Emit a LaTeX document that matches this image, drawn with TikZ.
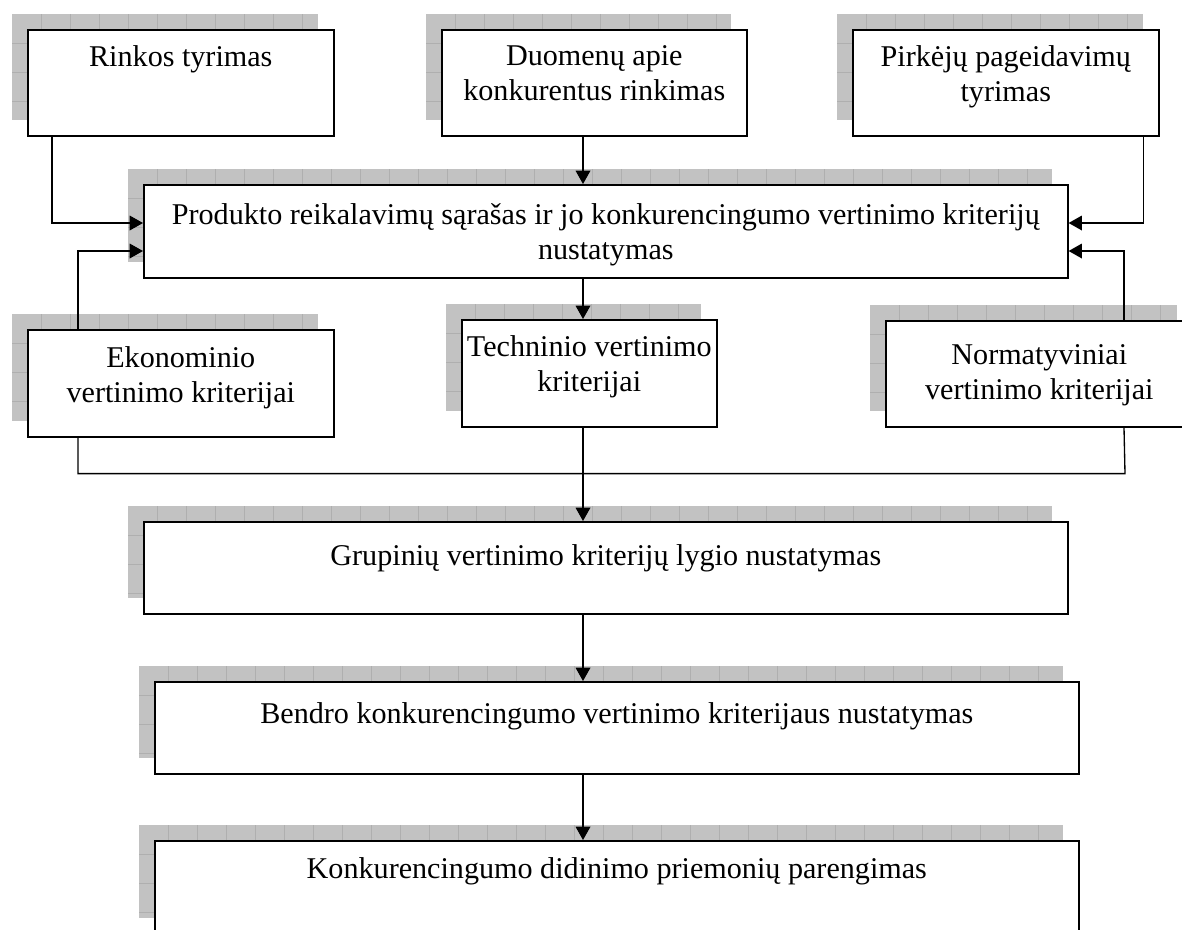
\documentclass[tikz,border=0pt]{standalone}
\usepackage{fontspec}
\setmainfont{Liberation Serif}
\usepackage{tikz}
\usetikzlibrary{arrows.meta, calc}

\definecolor{seselis}{HTML}{C2C2C2}
\definecolor{tinklas}{HTML}{AFAFAF}
\newlength{\pikselis}
\setlength{\pikselis}{0.75pt}

% box with gridded shadow: name, x, y, width, height, top pad, text
\newcommand{\dezute}[7]{%
	\fill[seselis] (#2-15,#3-15) rectangle ++(#4,#5);
	\foreach \gx in {29,58,...,#4} \draw[tinklelis] (#2-15+\gx,#3-15) -- ++(0,#5);
	\foreach \gy in {29,58,...,#5} \draw[tinklelis] (#2-15,#3-15+\gy) -- ++(#4,0);
	\node[dezute, anchor=north west] (#1) at (#2,#3)
		{\parbox[c][#5\pikselis][t]{#4\pikselis}{\centering\vspace*{#6\pikselis}#7}};
}

\begin{document}
\begin{tikzpicture}[x=0.75pt, y=-0.75pt,
		dezute/.style={draw, line width=1.2pt, fill=white, inner sep=0pt,
			font=\fontsize{22.6}{26.3}\selectfont},
		jungtis/.style={line width=1pt, -{Triangle[length=10pt, width=11pt]}},
		linija/.style={line width=1pt},
		tinklelis/.style={draw=tinklas, line width=0.5pt}]
			\useasboundingbox (0,0) rectangle (1182,929);
			% Top row
			\dezute{rinkos}{27}{29}{306}{106}{16}{Rinkos tyrimas}
			\dezute{duomenys}{441}{29}{305}{106}{16}{Duomenų apie\\konkurentus rinkimas}
			\dezute{pirkejai}{852}{29}{306}{106}{16}{Pirkėjų pageidavimų\\tyrimas}
			% Requirements list
			\dezute{produktas}{143}{184}{924}{93}{19}{Produkto reikalavimų sąrašas ir jo konkurencingumo vertinimo kriterijų\\nustatymas}
			% Criteria row
			\dezute{ekonom}{27}{329}{306}{107}{17}{Ekonominio\\vertinimo kriterijai}
			\dezute{techn}{461}{319}{255}{107}{16}{Techninio vertinimo\\kriterijai}
			\dezute{normat}{885}{320}{307}{106}{24}{Normatyviniai\\vertinimo kriterijai}
			% Lower steps
			\dezute{grupiniai}{143}{521}{924}{92}{23}{Grupinių vertinimo kriterijų lygio nustatymas}
			\dezute{bendras}{154}{681}{924}{92}{21}{Bendro konkurencingumo vertinimo kriterijaus nustatymas}
			\dezute{didinimas}{154}{840}{924}{93}{17}{Konkurencingumo didinimo priemonių parengimas}
			% Main axis
			\coordinate (asis) at (583,0);
			% Arrows into the list
			\draw[jungtis] ($(rinkos.south west)+(25,0)$) |- ($(produktas.north west)+(0,39)$);
			\draw[jungtis] (duomenys.south -| asis) -- (produktas.north -| asis);
			\draw[jungtis] ($(pirkejai.south east)+(-16,0)$) |- ($(produktas.north east)+(0,39)$);
			\draw[jungtis] ($(ekonom.north west)+(51,0)$) |- ($(produktas.north west)+(0,67)$);
			\draw[jungtis] ($(normat.north west)+(239,0)$) |- ($(produktas.north east)+(0,67)$);
			\draw[jungtis] (produktas.south -| asis) -- (techn.north -| asis);
			% Collecting line under the criteria
			\draw[linija] ($(ekonom.south west)+(51,0)$) |- ($(normat.south west)+(240,46)$) -- ($(normat.south west)+(239,0)$);
			\draw[jungtis] (techn.south -| asis) -- (grupiniai.north -| asis);
			\draw[jungtis] (grupiniai.south -| asis) -- (bendras.north -| asis);
			\draw[jungtis] (bendras.south -| asis) -- (didinimas.north -| asis);
		\end{tikzpicture}
\end{document}
